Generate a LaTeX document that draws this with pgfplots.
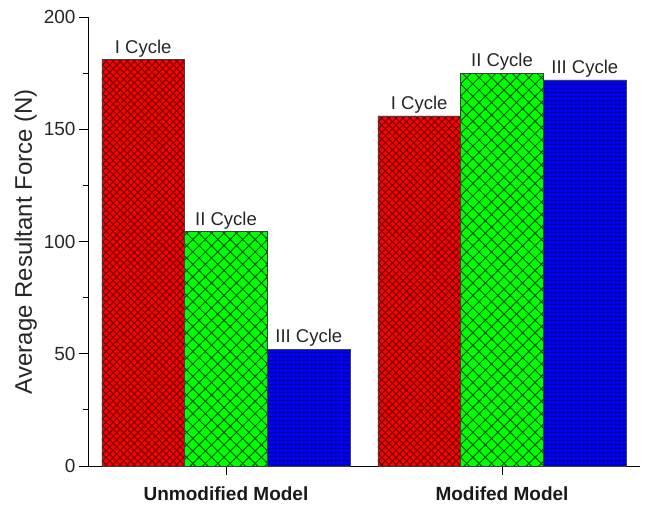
\documentclass[border=0pt]{standalone}
\usepackage{pgfplots}
\pgfplotsset{compat=1.18}
\usepackage{fontspec}
\setmainfont{Liberation Sans}
\usetikzlibrary{patterns.meta}
\begin{document}
\begin{tikzpicture}[x=1pt,y=1pt]
\begin{axis}[
  at={(0,0)}, anchor=south west,
  scale only axis, width=552pt, height=449pt,
  axis lines=left, axis line style={-, line width=0.9pt},
  xmin=-0.5, xmax=1.5, ymin=0, ymax=200,
  xtick={0,1}, xticklabels={Unmodified Model, Modifed Model},
  xticklabel style={font=\fontsize{19}{22}\selectfont\bfseries, color=black!90, yshift=-8pt},
  ytick={0,50,100,150,200},
  minor y tick num=1,
  tick align=outside,
  major tick length=9pt, minor tick length=5pt,
  tick style={line width=0.9pt, black},
  /pgf/number format/assume math mode=true,
  yticklabel style={font=\fontsize{19}{22}\selectfont, color=black!85},
  ylabel={Average Resultant Force (N)},
  ylabel style={font=\fontsize{24}{28}\selectfont, color=black!85},
  ybar=0pt, bar width=0.3,
  every node near coord/.append style={font=\fontsize{18.5}{22}\selectfont, color=black!85, yshift=-1pt},
  clip=false,
]
\addplot[bar shift=-0.3, draw=black!75, fill=red,
  postaction={pattern={Lines[angle=45,distance=5pt,line width=1.1pt]}, pattern color=red!45!black},
  postaction={pattern={Lines[angle=-45,distance=5pt,line width=1.1pt]}, pattern color=red!45!black},
  nodes near coords={I Cycle}]
  coordinates {(0,181) (1,156)};
\addplot[bar shift=0, draw=black!75, fill=green,
  postaction={pattern={Lines[angle=45,distance=8.8pt,line width=1pt]}, pattern color=green!35!black},
  postaction={pattern={Lines[angle=-45,distance=8.8pt,line width=1pt]}, pattern color=green!35!black},
  nodes near coords={II Cycle}]
  coordinates {(0,104.5) (1,175)};
\addplot[bar shift=0.3, draw=black!75, fill=blue,
  postaction={pattern={Lines[angle=0,distance=4pt,line width=1.4pt]}, pattern color=blue!30!black},
  nodes near coords={III Cycle}]
  coordinates {(0,52) (1,172)};
\end{axis}
\pgfresetboundingbox
\path[use as bounding box] (-88pt,-41pt) rectangle (558pt,466pt);
\end{tikzpicture}
\end{document}
